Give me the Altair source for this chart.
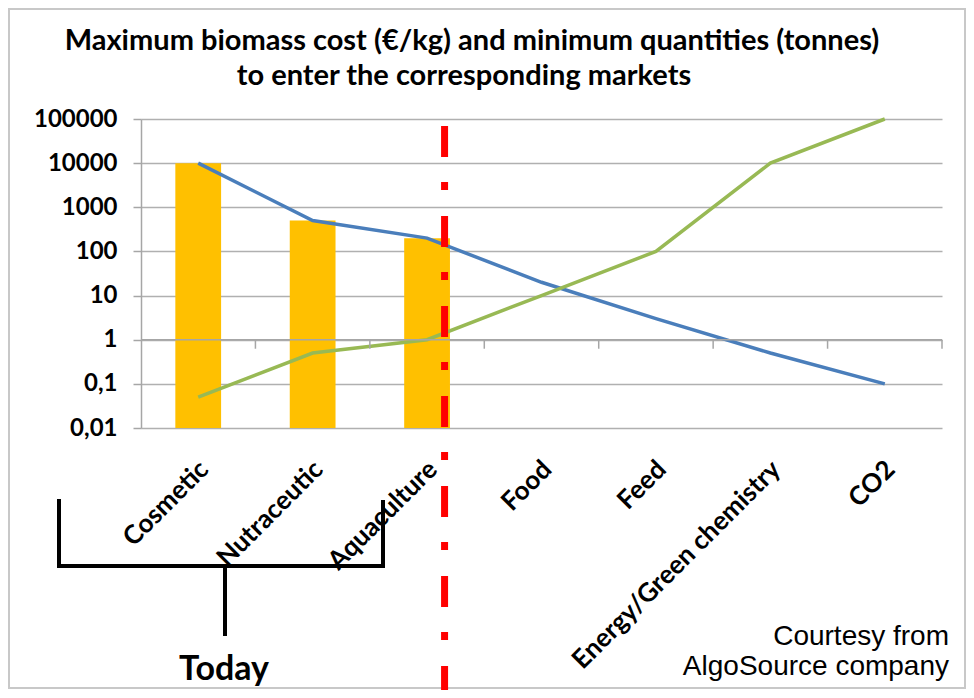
import altair as alt
import pandas as pd

# ---- data ----
categories = ["Cosmetic", "Nutraceutic", "Aquaculture", "Food", "Feed",
              "Energy/Green chemistry", "CO2"]
max_cost = [10000, 500, 200, 20, 3, 0.5, 0.1]          # blue line
min_quantity = [0.05, 0.5, 1, 10, 100, 10000, 100000]  # green line
bar_categories = ["Cosmetic", "Nutraceutic", "Aquaculture"]
bar_values = [10000, 500, 200]
y_ticks = [0.01, 0.1, 1, 10, 100, 1000, 10000, 100000]
series_names = ["cost", "quantity"]
series_colors = ["#4A7EBB", "#98B954"]
divider_after = ["Aquaculture"]
title_lines = ["Maximum biomass cost (€/kg) and minimum quantities (tonnes)",
               "to enter the corresponding markets"]
bracket_label = ["Today"]
courtesy_lines = ["Courtesy from", "AlgoSource company"]

lines_df = pd.DataFrame({
    "market": categories * 2,
    "value": max_cost + min_quantity,
    "series": [series_names[0]] * len(categories) + [series_names[1]] * len(categories),
})
bars_df = pd.DataFrame({"market": bar_categories, "value": bar_values})
cats_df = pd.DataFrame({"market": categories})
div_df = pd.DataFrame({"market": divider_after})
dummy = pd.DataFrame({"d": [0]})

W, H = 801, 309
BAND = W / len(categories)

x_enc = alt.X(
    "market:N", sort=categories,
    scale=alt.Scale(paddingInner=0, paddingOuter=0),
    axis=alt.Axis(
        title=None, labelAngle=-45, labelAlign="right", labelBaseline="middle",
        labelPadding=37, labelOffset=6, ticks=False, tickSize=0, domain=False,
        grid=False, labelFont="Lato", labelFontWeight="bold", labelFontSize=26,
        labelColor="black", labelLimit=500, labelOverlap=False,
    ),
)
y_enc = alt.Y(
    "value:Q",
    scale=alt.Scale(type="log", domain=[0.01, 100000], nice=False),
    axis=alt.Axis(
        title=None, values=y_ticks,
        labelExpr="replace(toString(datum.value), '.', ',')",
        grid=True, gridColor="#b0b0b0", gridWidth=1.5,
        domainColor="#a6a6a6", domainWidth=1.5,
        tickColor="#a6a6a6", tickSize=8, tickWidth=1.5, labelPadding=16,
        labelFont="Lato", labelFontWeight="bold", labelFontSize=24,
        labelColor="black",
    ),
)

frame = alt.Chart(dummy).mark_rect(fillOpacity=0, stroke="#c8c8c8", strokeWidth=2).encode(
    x=alt.value(-132), x2=alt.value(824), y=alt.value(-110), y2=alt.value(569)
)

bars = alt.Chart(bars_df).mark_bar(color="#FFC000", width=alt.RelativeBandSize(0.4)).encode(
    x=x_enc, y=y_enc, y2=alt.datum(0.01)
)

lines = alt.Chart(lines_df).mark_line(strokeWidth=3.5).encode(
    x=x_enc, y=y_enc,
    color=alt.Color("series:N", scale=alt.Scale(domain=series_names, range=series_colors), legend=None),
)

axis_line = alt.Chart(dummy).mark_rule(color="#a6a6a6", strokeWidth=1.5).encode(
    x=alt.value(0), x2=alt.value(W), y=alt.datum(1)
)
ticks = alt.Chart(cats_df).mark_rule(color="#a6a6a6", strokeWidth=1.5, xOffset=BAND / 2).encode(
    x=x_enc, y=alt.datum(1), y2=alt.datum(0.625)
)

divider = alt.Chart(div_df).mark_rule(
    color="#FF0000", strokeWidth=7, strokeDash=[31, 25, 8, 26], xOffset=17.5
).encode(x=x_enc, y=alt.value(7), y2=alt.value(571))

def seg(x1, y1, x2, y2):
    return alt.Chart(dummy).mark_rule(color="black", strokeWidth=4).encode(
        x=alt.value(x1), x2=alt.value(x2), y=alt.value(y1), y2=alt.value(y2)
    )

bracket = [
    seg(-82, 380, -82, 449),
    seg(-84, 447, 244, 447),
    seg(242, 381, 242, 449),
    seg(84, 447, 84, 517),
]

def txt(s, x, y, size, weight="bold", font="Lato", align="center"):
    return alt.Chart(pd.DataFrame({"t": [s]})).mark_text(
        font=font, fontSize=size, fontWeight=weight, align=align,
        baseline="alphabetic", color="black"
    ).encode(x=alt.value(x), y=alt.value(y), text="t:N")

texts = [
    txt(title_lines[0], 331, -69, 29),
    txt(title_lines[1], 323, -34, 29),
    txt(bracket_label[0], 83, 561, 34),
    txt(courtesy_lines[0], 808, 526, 28, weight="normal", font="Liberation Sans", align="right"),
    txt(courtesy_lines[1], 808, 556, 28, weight="normal", font="Liberation Sans", align="right"),
]

chart = alt.layer(frame, bars, lines, axis_line, ticks, divider, *bracket, *texts).properties(
    width=W, height=H,
    autosize=alt.AutoSizeParams(type="none"),
    padding={"left": 133, "top": 111, "right": 24, "bottom": 262},
).configure_view(stroke=None)

chart.save("out.html", embed_options={"renderer": "svg", "actions": False})
